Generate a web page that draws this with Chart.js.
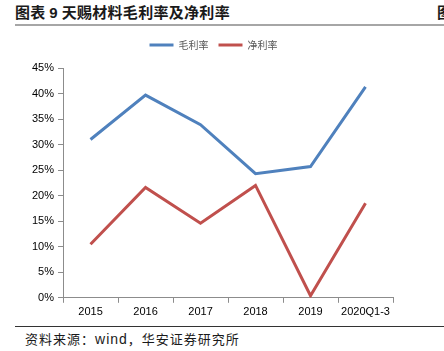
<!DOCTYPE html>
<html>
<head>
<meta charset="utf-8">
<title>天赐材料毛利率及净利率</title>
<script src="https://cdn.jsdelivr.net/npm/chart.js"></script>
<style>
  body { margin:0; width:444px; height:351px; background:#fff; position:relative; overflow:hidden; font-family:"Noto Sans CJK SC", sans-serif; }
  #title { position:absolute; left:15px; top:1px; font-size:15px; letter-spacing:0.3px; font-weight:bold; color:#1a1a1a; white-space:nowrap; }
  #title .fig { font-family:"Liberation Sans", Arial, sans-serif; }
  #cut { position:absolute; left:437px; top:1px; font-size:15px; font-weight:bold; color:#1a1a1a; }
  #topline { position:absolute; left:15px; top:24px; width:429px; height:2px; background:#a6a6a6; }
  #wrap { position:absolute; left:0; top:28px; width:444px; height:294px; }
  #botline { position:absolute; left:15px; top:326px; width:429px; height:1px; background:#333; }
  #source { position:absolute; left:25px; top:329px; font-size:13px; letter-spacing:1px; color:#1a1a1a; white-space:nowrap; }
  #source .lat { font-family:"Liberation Sans", Arial, sans-serif; font-size:14px; }
</style>
</head>
<body>
<div id="title">图表 <span class="fig">9</span>&nbsp;天赐材料毛利率及净利率</div>
<div id="cut">图</div>
<div id="topline"></div>
<div id="wrap"><canvas id="chart"></canvas></div>
<div id="botline"></div>
<div id="source">资料来源：<span class="lat">wind</span>，华安证券研究所</div>
<script>
const categories = ['2015', '2016', '2017', '2018', '2019', '2020Q1-3'];
const grossMargin = [31.0, 39.7, 33.9, 24.3, 25.7, 41.3];
const netMargin = [10.5, 21.6, 14.6, 22.0, 0.4, 18.5];
const yTicks = [0, 5, 10, 15, 20, 25, 30, 35, 40, 45];

// extra room under the legend, and nudge it a little right
const legendGap = {
  id: 'legendGap',
  beforeInit(chart) {
    const fit = chart.legend.fit;
    chart.legend.fit = function () { fit.bind(chart.legend)(); this.height += 8; };
  },
  afterLayout(chart) {
    chart.legend.left += 3;
    chart.legend.right += 3;
  }
};

const ctx = document.getElementById('chart').getContext('2d');
new Chart(ctx, {
  type: 'line',
  data: {
    labels: categories,
    datasets: [
      { label: '毛利率', data: grossMargin, borderColor: '#4F81BD', backgroundColor: '#4F81BD', borderWidth: 3, pointRadius: 0, tension: 0, fill: false },
      { label: '净利率', data: netMargin, borderColor: '#C0504D', backgroundColor: '#C0504D', borderWidth: 3, pointRadius: 0, tension: 0, fill: false }
    ]
  },
  options: {
    responsive: true,
    maintainAspectRatio: false,
    animation: false,
    layout: { padding: { left: 28, right: 51, top: 2, bottom: 0 } },
    plugins: {
      tooltip: { enabled: false },
      legend: {
        position: 'top',
        labels: {
          usePointStyle: true, pointStyle: 'line', pointStyleWidth: 24,
          color: '#595959', boxHeight: 3,
          font: { family: '"Noto Sans CJK SC", sans-serif', size: 10 },
          padding: 10
        }
      }
    },
    scales: {
      x: {
        offset: true,
        grid: { display: true, drawOnChartArea: false, drawTicks: true, tickLength: 5, color: '#8c8c8c', offset: true },
        border: { color: '#8c8c8c', width: 1 },
        ticks: { color: '#000', font: { family: '"Liberation Sans", Arial, sans-serif', size: 11 }, maxRotation: 0, padding: 3 }
      },
      y: {
        min: yTicks[0], max: yTicks[yTicks.length - 1],
        afterBuildTicks: axis => { axis.ticks = yTicks.map(v => ({ value: v })); },
        grid: { display: true, drawOnChartArea: false, drawTicks: true, tickLength: 5, color: '#8c8c8c' },
        border: { color: '#8c8c8c', width: 1 },
        ticks: { color: '#000', font: { family: '"Liberation Sans", Arial, sans-serif', size: 11 }, padding: 4, callback: v => v + '%' }
      }
    }
  },
  plugins: [legendGap]
});
</script>
</body>
</html>
